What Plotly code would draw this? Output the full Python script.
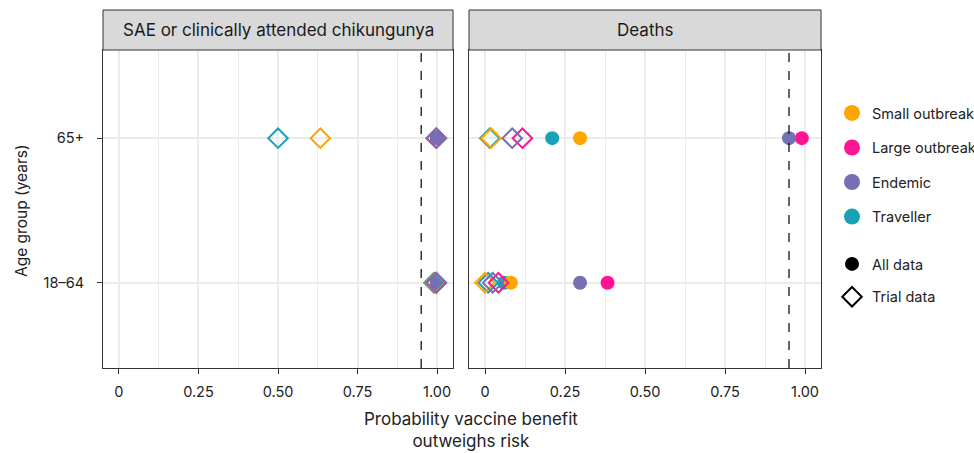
import plotly.graph_objects as go

# ---------------- data ----------------
age_groups = ["18–64", "65+"]
settings = ["Traveller", "Small outbreak", "Large outbreak", "Endemic"]
legend_order = ["Small outbreak", "Large outbreak", "Endemic", "Traveller"]
colors = {"Small outbreak": "#FFA500", "Large outbreak": "#FF1493",
          "Endemic": "#7570B3", "Traveller": "#17A2B8"}

# probability vaccine benefit outweighs risk, per setting: [18–64, 65+]
sae_all = {"Small outbreak": [1.0, 1.0], "Large outbreak": [1.0, 1.0],
           "Endemic": [1.0, 1.0], "Traveller": [1.0, 1.0]}
sae_trial = {"Small outbreak": [0.995, 0.633], "Large outbreak": [0.997, 0.998],
             "Endemic": [0.998, 0.997], "Traveller": [0.99, 0.50]}
death_all = {"Small outbreak": [0.081, 0.297], "Large outbreak": [0.383, 0.99],
             "Endemic": [0.297, 0.95], "Traveller": [0.060, 0.210]}
death_trial = {"Small outbreak": [0.0, 0.019], "Large outbreak": [0.042, 0.117],
               "Endemic": [0.024, 0.085], "Traveller": [0.010, 0.015]}

panels = ["SAE or clinically attended chikungunya", "Deaths"]
xticks = [0, 0.25, 0.5, 0.75, 1.0]
xticktext = ["0", "0.25", "0.50", "0.75", "1.00"]
threshold = 0.95

FONT = "Inter"
W, H = 974, 453

fig = go.Figure()

panel_data = [(sae_all, sae_trial, "x", "y"), (death_all, death_trial, "x2", "y2")]
for all_d, trial_d, xa, ya in panel_data:
    for s in settings:
        fig.add_trace(go.Scatter(
            x=all_d[s], y=age_groups, mode="markers", xaxis=xa, yaxis=ya,
            marker=dict(symbol="circle", size=14, color=colors[s]),
            showlegend=False, hoverinfo="skip"))
    for s in settings:
        fig.add_trace(go.Scatter(
            x=trial_d[s], y=age_groups, mode="markers", xaxis=xa, yaxis=ya,
            marker=dict(symbol="diamond-open", size=15, color=colors[s],
                        line=dict(width=2, color=colors[s])),
            showlegend=False, hoverinfo="skip"))

# legend entries
for i, s in enumerate(legend_order):
    fig.add_trace(go.Scatter(
        x=[None], y=[None], mode="markers", name=s, legendgroup=s,
        marker=dict(symbol="circle", size=16, color=colors[s]), legend="legend"))
fig.add_trace(go.Scatter(
    x=[None], y=[None], mode="markers", name="All data", legendgroup="all",
    marker=dict(symbol="circle", size=14, color="black"), legend="legend2"))
fig.add_trace(go.Scatter(
    x=[None], y=[None], mode="markers", name="Trial data", legendgroup="trial",
    marker=dict(symbol="diamond-open", size=15, color="black",
                line=dict(width=2, color="black")), legend="legend2"))

# layout geometry
xl = (103 / W, 453 / W)
xr = (469 / W, 821 / W)
yd = (1 - 368 / H, 1 - 50 / H)

TXT = "#222222"
common_x = dict(range=[-0.05, 1.05], tickvals=xticks, ticktext=xticktext,
                showgrid=True, gridcolor="#EBEBEB", gridwidth=2,
                minor=dict(tickvals=[0.125, 0.375, 0.625, 0.875], showgrid=True,
                           gridcolor="#EBEBEB", gridwidth=1),
                zeroline=False, showline=True, linecolor="#333333", linewidth=1,
                mirror=True, ticks="outside", ticklen=5, tickcolor="#333333",
                ticklabelstandoff=6,
                tickfont=dict(family=FONT, size=14.5, color=TXT))
common_y = dict(range=[-0.59, 1.61], type="category",
                categoryorder="array", categoryarray=age_groups,
                showgrid=True, gridcolor="#EBEBEB", gridwidth=2,
                zeroline=False, showline=True, linecolor="#333333", linewidth=1,
                mirror=True)

fig.update_layout(
    width=W, height=H,
    margin=dict(l=0, r=0, t=0, b=0, autoexpand=False),
    paper_bgcolor="white", plot_bgcolor="white",
    font=dict(family=FONT, size=14, color=TXT),
    xaxis=dict(domain=list(xl), anchor="y", **common_x),
    xaxis2=dict(domain=list(xr), anchor="y2", **common_x),
    yaxis=dict(domain=list(yd), anchor="x", ticks="outside", ticklen=5,
               tickcolor="#333333", ticklabelstandoff=10,
               tickfont=dict(family=FONT, size=14.5, color=TXT), **common_y),
    yaxis2=dict(domain=list(yd), anchor="x2", showticklabels=False, ticks="",
                **common_y),
    legend=dict(x=832 / W, xanchor="left", y=1 - 97 / H, yanchor="top",
                tracegroupgap=12.7, itemsizing="trace",
                font=dict(family=FONT, size=14.5, color=TXT)),
    legend2=dict(x=832 / W, xanchor="left", y=1 - 248 / H, yanchor="top",
                 tracegroupgap=11, itemsizing="trace",
                 font=dict(family=FONT, size=14.5, color=TXT)),
)

shapes = []
annotations = []
strip_h = 40 / 318
for i, (xa, ya) in enumerate([("x", "y"), ("x2", "y2")]):
    shapes.append(dict(type="rect", xref=f"{xa} domain", yref=f"{ya} domain",
                       x0=0, x1=1, y0=1, y1=1 + strip_h,
                       fillcolor="#D9D9D9", line=dict(color="#333333", width=1)))
    shapes.append(dict(type="line", xref=xa, yref=f"{ya} domain",
                       x0=threshold, x1=threshold, y0=0, y1=1,
                       line=dict(color="black", width=1.2, dash="dash")))
    annotations.append(dict(text=panels[i], xref=f"{xa} domain", yref=f"{ya} domain",
                            x=0.5, y=1 + strip_h / 2, xanchor="center", yanchor="middle",
                            showarrow=False,
                            font=dict(family=FONT, size=17, color="#1A1A1A")))

annotations.append(dict(text="Probability vaccine benefit<br>outweighs risk",
                        xref="paper", yref="paper", x=471 / W, y=1 - 430 / H,
                        xanchor="center", yanchor="middle",
                        showarrow=False, font=dict(family=FONT, size=17, color=TXT)))
annotations.append(dict(text="Age group (years)", xref="paper", yref="paper",
                        x=22 / W, y=1 - 211 / H, textangle=-90, showarrow=False,
                        xanchor="center", yanchor="middle",
                        font=dict(family=FONT, size=15.5, color=TXT)))

fig.update_layout(shapes=shapes, annotations=annotations)
fig.write_html("out.html")
